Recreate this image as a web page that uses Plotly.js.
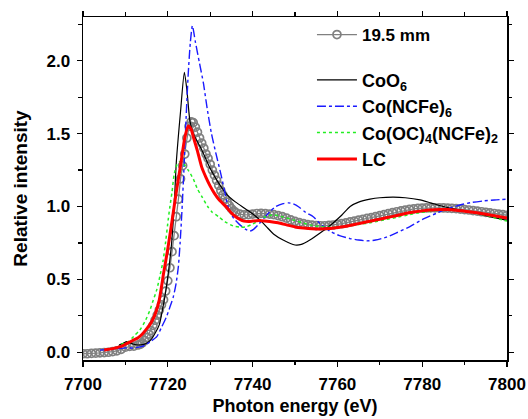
<!DOCTYPE html>
<html>
<head>
<meta charset="utf-8">
<script src="https://cdn.plot.ly/plotly-3.0.1.min.js"></script>
<style>html,body{margin:0;padding:0;background:#fff;}#chart{width:528px;height:419px;}</style>
</head>
<body>
<div id="chart"></div>
<script>
// 19.5 mm measured spectrum
const expX = [7700,7701,7702,7703,7704,7705,7706,7707,7708,7709,7710,7711,7712,7713,
  7713.5,7714,7714.5,7715,7715.5,7716,7716.5,7717,7717.5,7718,7718.5,7719,7719.5,7720,7720.5,7721,7721.5,7722,7722.5,7723,7723.5,7724,7724.5,7725,7725.5,7726,7726.5,7727,7727.5,7728,7728.5,7729,7729.5,7730,7730.5,7731,7731.5,7732,7732.5,7733,7733.5,7734,7734.5,7735,7735.5,7736,
  7737,7738,7739,7740,7741,7742,7743,7744,7745,7746,7747,7748,7749,7750,7751,7752,7753,7754,7755,7756,7757,7758,7759,7760,7761,7762,7763,7764,7765,7766,7767,7768,7769,7770,7771,7772,7773,7774,7775,7776,7777,7778,7779,7780,7781,7782,7783,7784,7785,7786,7787,7788,7789,7790,7791,7792,7793,7794,7795,7796,7797,7798,7799,7800];
const expY = [-0.01,-0.01,-0.008,-0.006,-0.004,-0.002,0.0,0.004,0.01,0.02,0.035,0.04,0.042,0.05,
  0.055,0.065,0.08,0.10,0.125,0.15,0.185,0.22,0.255,0.29,0.325,0.36,0.42,0.49,0.58,0.69,0.80,0.93,1.05,1.19,1.28,1.36,1.47,1.55,1.58,1.575,1.545,1.51,1.47,1.435,1.40,1.36,1.33,1.29,1.25,1.215,1.18,1.145,1.11,1.08,1.055,1.03,1.005,0.985,0.97,0.96,
  0.948,0.943,0.944,0.948,0.952,0.953,0.951,0.948,0.944,0.938,0.93,0.92,0.908,0.898,0.889,0.882,0.876,0.872,0.869,0.868,0.868,0.87,0.873,0.877,0.882,0.888,0.894,0.90,0.906,0.912,0.918,0.924,0.93,0.937,0.944,0.951,0.958,0.964,0.97,0.975,0.98,0.984,0.987,0.989,0.99,0.991,0.991,0.991,0.99,0.989,0.987,0.985,0.982,0.979,0.976,0.972,0.968,0.964,0.96,0.956,0.952,0.948,0.944,0.94];

// CoO6
const coo6X = [7708.5,7709.5,7710.3,7711,7712,7713,7714,7715,7716,7717,7718,7718.6,7719.3,7720.1,7720.9,7721.5,7722,7723,7723.9,7724.5,7725.2,7726,7728,7730,7732,7734,7736,7738,7740,7742,7743.3,7745,7747.2,7750,7751.5,7753.5,7756,7758.3,7761,7763,7765,7767.7,7770,7773.2,7776,7779.5,7782,7785,7789,7792.9,7796,7800];
const coo6Y = [0.05,0.062,0.073,0.065,0.055,0.05,0.052,0.062,0.085,0.13,0.19,0.27,0.38,0.54,0.75,1.0,1.30,1.65,1.92,1.80,1.59,1.50,1.39,1.26,1.16,1.08,1.03,0.99,0.95,0.90,0.86,0.81,0.77,0.736,0.74,0.77,0.82,0.87,0.94,1.0,1.03,1.05,1.06,1.064,1.06,1.045,1.025,1.0,0.975,0.954,0.93,0.905];

// Co(NCFe)6
const ncfeX = [7704,7706,7708,7710,7712,7714,7715,7716,7717.4,7718.5,7719.7,7720.5,7721.3,7722,7722.5,7722.9,7723.3,7723.8,7724.3,7724.8,7725.3,7725.8,7726.5,7727.5,7728.4,7729.3,7730.3,7731.3,7732.3,7733.3,7734.3,7735.5,7737,7738.3,7739.4,7740.3,7741.3,7742.7,7744.1,7745.5,7747.2,7748.5,7749.6,7751,7752.5,7754.3,7756,7758.3,7760.5,7763,7765,7766.9,7769,7771.6,7774,7777.1,7780,7783.4,7786,7788.9,7791.5,7794.4,7797,7800];
const ncfeY = [0.015,0.02,0.025,0.03,0.03,0.04,0.055,0.075,0.107,0.17,0.244,0.31,0.38,0.48,0.59,0.75,0.95,1.25,1.60,1.90,2.12,2.24,2.13,1.98,1.846,1.67,1.50,1.37,1.25,1.12,0.99,0.92,0.874,0.845,0.832,0.845,0.874,0.92,0.965,1.0,1.02,1.025,1.018,0.995,0.96,0.93,0.88,0.83,0.80,0.78,0.77,0.764,0.77,0.79,0.82,0.862,0.91,0.954,0.985,1.01,1.027,1.038,1.045,1.05];

// Co(OC)4(NCFe)2
const ocX = [7709,7710.7,7712,7713.4,7714.6,7715.8,7716.6,7717.4,7718.2,7718.9,7719.5,7720.1,7720.5,7721,7721.5,7722.2,7723,7723.8,7724.8,7726,7727,7728,7729.4,7730.5,7732,7733.5,7735.4,7737,7738.6,7740,7741.7,7743,7744.9,7747,7749.6,7751.5,7753.5,7756,7758,7760,7762,7765,7768,7771,7774,7777,7780,7783,7786,7789,7792,7795,7798,7800];
const ocY = [0.055,0.073,0.11,0.153,0.21,0.29,0.36,0.43,0.53,0.63,0.76,0.91,1.0,1.10,1.22,1.29,1.31,1.29,1.25,1.19,1.12,1.07,1.0,0.96,0.93,0.895,0.867,0.858,0.862,0.88,0.908,0.93,0.942,0.93,0.908,0.89,0.874,0.862,0.858,0.858,0.864,0.876,0.89,0.908,0.925,0.945,0.96,0.972,0.976,0.972,0.958,0.94,0.915,0.90];

// LC
const lcX = [7705,7707,7709,7710,7711,7712,7713,7714,7715,7716,7717,7718,7719,7720,7721,7722,7723,7724,7724.8,7725.5,7726,7727,7728,7729,7730,7731,7732,7733,7734,7735,7736,7737,7738,7739,7740,7741,7742,7744,7746,7748,7750,7752,7754,7756,7758,7760,7762,7764,7766,7768,7770,7772,7774,7776,7778,7780,7782,7784,7786,7788,7790,7792,7794,7796,7798,7800];
const lcY = [0.016,0.025,0.04,0.055,0.07,0.085,0.10,0.125,0.16,0.20,0.26,0.36,0.54,0.71,0.90,1.10,1.28,1.47,1.553,1.53,1.48,1.38,1.27,1.20,1.14,1.09,1.05,1.02,0.99,0.955,0.93,0.912,0.90,0.897,0.90,0.903,0.903,0.897,0.888,0.874,0.86,0.853,0.848,0.846,0.849,0.856,0.864,0.876,0.889,0.901,0.913,0.926,0.938,0.952,0.962,0.97,0.976,0.979,0.979,0.975,0.968,0.961,0.952,0.942,0.932,0.921];

const F = 'Arial, "Liberation Sans", sans-serif';

const traces = [
  {x: expX, y: expY, name: '19.5 mm', type: 'scatter', mode: 'lines+markers',
   line: {color: '#808080', width: 1.3},
   marker: {symbol: 'circle-open', size: 8, color: '#808080', line: {width: 1.7, color: '#808080'}},
   legend: 'legend'},
  {x: coo6X, y: coo6Y, name: 'CoO<sub>6</sub>', type: 'scatter', mode: 'lines',
   line: {color: '#000000', width: 1.2, shape: 'spline', smoothing: 0.6}, legend: 'legend2'},
  {x: ncfeX, y: ncfeY, name: 'Co(NCFe)<sub>6</sub>', type: 'scatter', mode: 'lines',
   line: {color: '#1a1aff', width: 1.4, dash: 'dashdot', shape: 'spline', smoothing: 0.6}, legend: 'legend2'},
  {x: ocX, y: ocY, name: 'Co(OC)<sub>4</sub>(NCFe)<sub>2</sub>', type: 'scatter', mode: 'lines',
   line: {color: '#22ee22', width: 1.5, dash: 'dot', shape: 'spline', smoothing: 0.6}, legend: 'legend2'},
  {x: lcX, y: lcY, name: 'LC', type: 'scatter', mode: 'lines',
   line: {color: '#ff0000', width: 3, shape: 'spline', smoothing: 0.6}, legend: 'legend2'}
];

const axisCommon = {
  showline: true, linecolor: '#000', linewidth: 1.5, mirror: 'allticks',
  ticks: 'outside', ticklen: 5, tickwidth: 1.3, tickcolor: '#000',
  showgrid: false, zeroline: false,
  tickfont: {family: F, size: 17, color: '#000', weight: 'bold'}
};

const layout = {
  width: 528, height: 419,
  margin: {l: 83, r: 21, t: 17, b: 59, pad: 0},
  paper_bgcolor: '#fff', plot_bgcolor: '#fff',
  showlegend: true,
  xaxis: Object.assign({}, axisCommon, {
    range: [7700, 7800], dtick: 20, tick0: 7700, ticklabelstandoff: 3,
    minor: {dtick: 10, ticks: 'outside', ticklen: 3.5, tickwidth: 1.2, tickcolor: '#000', showgrid: false},
    title: {text: 'Photon energy (eV)', font: {family: F, size: 18, color: '#000', weight: 'bold'}, standoff: 6}
  }),
  yaxis: Object.assign({}, axisCommon, {
    range: [-0.053, 2.30], dtick: 0.5, tick0: 0, tickformat: '.1f', ticklabelstandoff: 3,
    minor: {dtick: 0.25, ticks: 'outside', ticklen: 3.5, tickwidth: 1.2, tickcolor: '#000', showgrid: false},
    title: {text: 'Relative intensity', font: {family: F, size: 19, color: '#000', weight: 'bold'}, standoff: 14}
  }),
  legend: {x: 0.54, y: 1.0, xanchor: 'left', yanchor: 'top', bgcolor: 'rgba(0,0,0,0)',
    itemwidth: 40, font: {family: F, size: 17, color: '#000', weight: 'bold'}},
  legend2: {x: 0.54, y: 0.87, xanchor: 'left', yanchor: 'top', bgcolor: 'rgba(0,0,0,0)',
    itemwidth: 40, tracegroupgap: 0, font: {family: F, size: 18, color: '#000', weight: 'bold'}}
};

Plotly.newPlot('chart', traces, layout, {displayModeBar: false, staticPlot: true});
</script>
</body>
</html>
